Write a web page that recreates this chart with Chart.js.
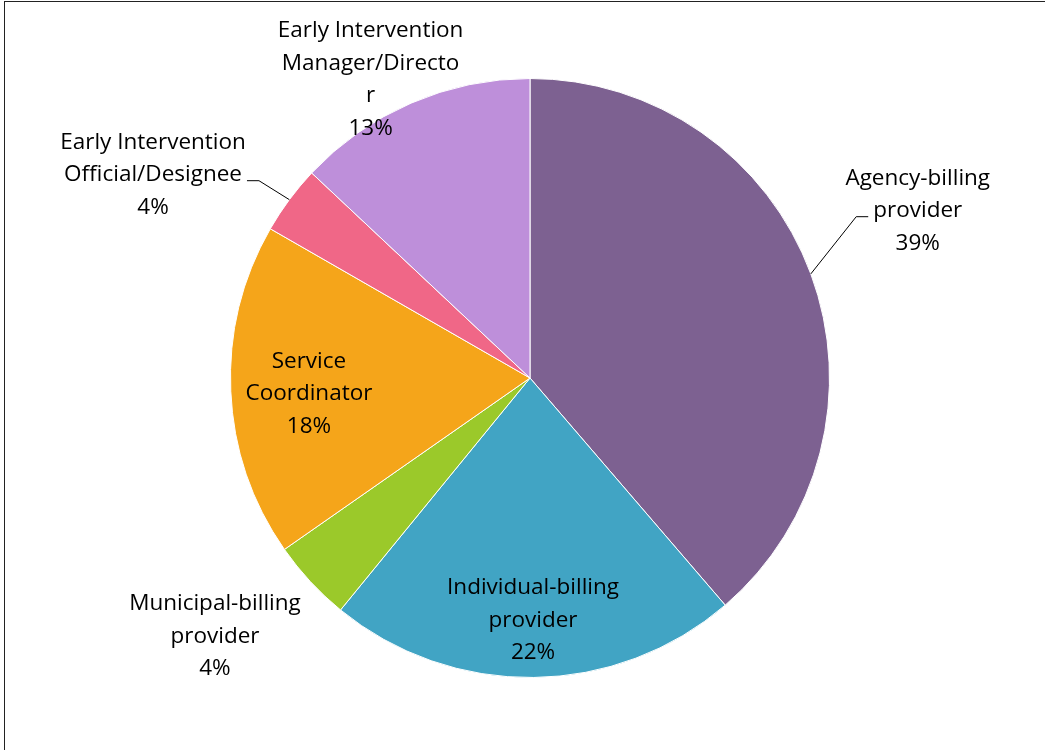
<!DOCTYPE html>
<html lang="en">
<head>
<meta charset="UTF-8">
<title>Early Intervention roles</title>
<script src="https://cdn.jsdelivr.net/npm/chart.js"></script>
<style>
  * { margin: 0; padding: 0; box-sizing: border-box; }
  html, body { width: 1045px; height: 750px; overflow: hidden; background: #fff; }
  .frame { position: absolute; left: 4px; top: 1px; width: 1100px; height: 800px; border: 1px solid #222; }
  .wrap { position: absolute; left: 0; top: 0; width: 1045px; height: 750px; }
</style>
</head>
<body>
<div class="frame"></div>
<div class="wrap"><canvas id="pie"></canvas></div>
<script>
// slices clockwise from 12 o'clock
const categories = [
  ['Agency-billing', 'provider'],
  ['Individual-billing', 'provider'],
  ['Municipal-billing', 'provider'],
  ['Service', 'Coordinator'],
  ['Early Intervention', 'Official/Designee'],
  ['Early Intervention', 'Manager/Directo', 'r']
];
const shares = [38.7, 22.2, 4.4, 18.0, 3.7, 13.0];
const sliceColors = ['#7D6191', '#41A4C4', '#9BC92A', '#F5A51A', '#F06787', '#BE8FDA'];

// where each label sits: fraction of radius, angle nudge in degrees, leader line or not
const labelPlace = [
  { f: 1.41, da: -3, leader: true },
  { f: 0.81, da: 0 },
  { f: 1.36, da: 3.5 },
  { f: 0.74, da: -1.6 },
  { f: 1.43, da: -8.2, leader: true },
  { f: 1.13, da: -4.7 }
];

const FONT = '22.5px "Open Sans", sans-serif';
const LINE_H = 32.5;

const total = shares.reduce((a, b) => a + b, 0);

const pieLabels = {
  id: 'pieLabels',
  afterDatasetsDraw(chart) {
    const ctx = chart.ctx;
    const arcs = chart.getDatasetMeta(0).data;
    ctx.save();
    ctx.font = FONT;
    ctx.fillStyle = '#000';
    ctx.strokeStyle = '#000';
    ctx.lineWidth = 1;
    ctx.textAlign = 'center';
    ctx.textBaseline = 'middle';
    arcs.forEach((arc, i) => {
      const p = arc.getProps(['x', 'y', 'startAngle', 'endAngle', 'outerRadius'], true);
      const mid = (p.startAngle + p.endAngle) / 2;
      const place = labelPlace[i];
      const a = mid + place.da * Math.PI / 180;
      const px = p.x + Math.cos(a) * p.outerRadius * place.f;
      const py = p.y + Math.sin(a) * p.outerRadius * place.f;
      const lines = categories[i].concat([Math.round(shares[i] / total * 100) + '%']);
      const top = py - (lines.length - 1) / 2 * LINE_H;
      lines.forEach((t, k) => ctx.fillText(t, px, top + k * LINE_H));

      if (place.leader) {
        const sx = p.x + Math.cos(mid) * p.outerRadius;
        const sy = p.y + Math.sin(mid) * p.outerRadius;
        const w = ctx.measureText(lines[1]).width;
        const side = px > p.x ? -1 : 1;
        const hy = top + LINE_H + 6;
        const ex = px + side * (w / 2 + 5);
        const kx = ex + side * 12;
        ctx.beginPath();
        ctx.moveTo(sx, sy);
        ctx.lineTo(kx, hy);
        ctx.lineTo(ex, hy);
        ctx.stroke();
      }
    });
    ctx.restore();
  }
};

new Chart(document.getElementById('pie'), {
  type: 'pie',
  data: {
    labels: categories.map(c => c.join(' ')),
    datasets: [{
      data: shares,
      backgroundColor: sliceColors,
      borderColor: '#fff',
      borderWidth: 1
    }]
  },
  options: {
    responsive: true,
    maintainAspectRatio: false,
    animation: false,
    layout: { padding: { top: 78, bottom: 72, left: 15, right: 0 } },
    plugins: { legend: { display: false }, tooltip: { enabled: false } }
  },
  plugins: [pieLabels]
});
</script>
</body>
</html>
